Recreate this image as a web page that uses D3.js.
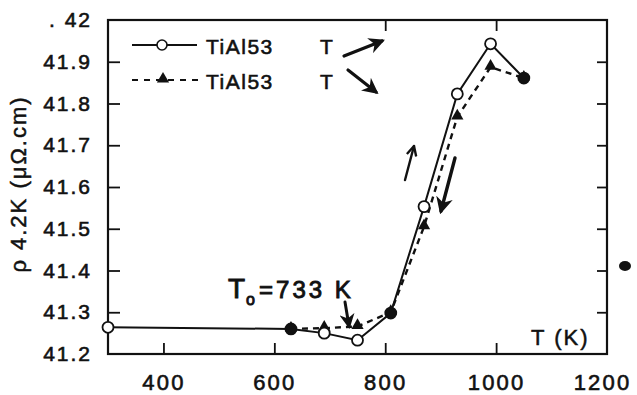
<!DOCTYPE html>
<html>
<head>
<meta charset="utf-8">
<script src="https://cdn.jsdelivr.net/npm/d3@7"></script>
<style>
  body { margin: 0; background: #fff; }
  svg { display: block; }
  text { font-family: "Liberation Sans", Arial, sans-serif; fill: #111; }
</style>
</head>
<body>
<script>
// data
var tempUp = [300, 630, 690, 750, 810, 870, 930, 990, 1050];
var rhoUp = [41.264, 41.26, 41.25, 41.233, 41.298, 41.553, 41.823, 41.943, 41.861];
var tempDown = [630, 690, 750, 810, 870, 930, 990, 1050];
var rhoDown = [41.26, 41.262, 41.266, 41.30, 41.505, 41.768, 41.887, 41.861];
var xTicks = [400, 600, 800, 1000, 1200];
var yTicks = [41.2, 41.3, 41.4, 41.5, 41.6, 41.7, 41.8, 41.9, 42];
var yTickLabels = ["41.2", "41.3", "41.4", "41.5", "41.6", "41.7", "41.8", "41.9", ". 42"];
var seriesNames = ["TiAl53", "TiAl53"];

var W = 637, H = 395;
var svg = d3.select("body").append("svg").attr("width", W).attr("height", H);

var x = d3.scaleLinear().domain([300, 1200]).range([108, 607]);
var y = d3.scaleLinear().domain([41.2, 42]).range([354, 20]);

// frame
svg.append("rect")
    .attr("x", x(300)).attr("y", y(42))
    .attr("width", x(1200) - x(300)).attr("height", y(41.2) - y(42))
    .attr("fill", "none").attr("stroke", "#111").attr("stroke-width", 2.2);

// bottom axis, ticks pointing up
var bottomAx = svg.append("g").attr("transform", "translate(0," + y(41.2) + ")")
    .call(d3.axisBottom(x).tickValues(xTicks).tickSizeInner(-11).tickSizeOuter(0).tickPadding(20)
        .tickFormat(d3.format("d")));
bottomAx.select(".domain").remove();
bottomAx.selectAll(".tick line").filter(function(d) { return d === 1200; }).remove();
bottomAx.selectAll("text").attr("font-size", 22).attr("letter-spacing", 2.2).attr("fill", "#111")
    .attr("stroke", "#111").attr("stroke-width", 0.6);
bottomAx.selectAll(".tick text").filter(function(d) { return d === 1200; }).attr("dx", -5);
bottomAx.selectAll("line").attr("stroke", "#111").attr("stroke-width", 1.8);

// top ticks (only 800 and 1000 show on the scan)
var topAx = svg.append("g").attr("transform", "translate(0," + y(42) + ")")
    .call(d3.axisTop(x).tickValues([800, 1000]).tickSizeInner(-11).tickSizeOuter(0).tickFormat(""));
topAx.select(".domain").remove();
topAx.selectAll("line").attr("stroke", "#111").attr("stroke-width", 1.8);

// left axis, ticks pointing right
var leftAx = svg.append("g").attr("transform", "translate(" + x(300) + ",0)")
    .call(d3.axisLeft(y).tickValues(yTicks).tickSizeInner(-12).tickSizeOuter(0).tickPadding(16)
        .tickFormat(function(d, i) { return yTickLabels[i]; }));
leftAx.select(".domain").remove();
leftAx.selectAll(".tick line").filter(function(d) { return d === 41.2 || d === 42; }).remove();
leftAx.selectAll("text").attr("font-size", 21).attr("letter-spacing", 2).attr("fill", "#111")
    .attr("stroke", "#111").attr("stroke-width", 0.6);
leftAx.selectAll("line").attr("stroke", "#111").attr("stroke-width", 1.8);

// right ticks pointing left
var rightAx = svg.append("g").attr("transform", "translate(" + x(1200) + ",0)")
    .call(d3.axisRight(y).tickValues(yTicks.slice(1, 8)).tickSizeInner(-10).tickSizeOuter(0).tickFormat(""));
rightAx.select(".domain").remove();
rightAx.selectAll("line").attr("stroke", "#111").attr("stroke-width", 1.8);

// axis titles
svg.append("text")
    .attr("transform", "translate(26," + 184 + ") rotate(-90)")
    .attr("text-anchor", "middle").attr("font-size", 22).attr("letter-spacing", 2)
    .attr("stroke", "#111").attr("stroke-width", 0.5)
    .text("ρ 4.2K (μΩ.cm)");
svg.append("text")
    .attr("x", 531).attr("y", 345).attr("font-size", 22).attr("letter-spacing", 2)
    .attr("stroke", "#111").attr("stroke-width", 0.5)
    .text("T (K)");

var line = d3.line().x(function(d) { return x(d[0]); }).y(function(d) { return y(d[1]); });
var upPts = tempUp.map(function(t, i) { return [t, rhoUp[i]]; });
var downPts = tempDown.map(function(t, i) { return [t, rhoDown[i]]; });

// heating curve (solid, open circles)
svg.append("path").datum(upPts).attr("d", line)
    .attr("fill", "none").attr("stroke", "#111").attr("stroke-width", 2);
// cooling curve (dashed, triangles)
svg.append("path").datum(downPts).attr("d", line)
    .attr("fill", "none").attr("stroke", "#111").attr("stroke-width", 2.4)
    .attr("stroke-dasharray", "6,5");

var tri = d3.symbol().type(d3.symbolTriangle).size(65);
svg.selectAll(".tri").data(downPts).enter().append("path")
    .attr("class", "tri")
    .attr("d", tri)
    .attr("transform", function(d) { return "translate(" + x(d[0]) + "," + (y(d[1]) - 1) + ")"; })
    .attr("fill", "#111");

svg.selectAll(".circ").data(upPts).enter().append("circle")
    .attr("class", "circ")
    .attr("cx", function(d) { return x(d[0]); })
    .attr("cy", function(d) { return y(d[1]); })
    .attr("r", 5.5)
    .attr("fill", function(d) { return (d[0] === 630 || d[0] === 810 || d[0] === 1050) ? "#111" : "#fff"; })
    .attr("stroke", "#111").attr("stroke-width", 1.8);

// legend
var lg = svg.append("g");
lg.append("line").attr("x1", 132).attr("x2", 197).attr("y1", 45).attr("y2", 45)
    .attr("stroke", "#111").attr("stroke-width", 2);
lg.append("circle").attr("cx", 162).attr("cy", 45).attr("r", 5).attr("fill", "#fff")
    .attr("stroke", "#111").attr("stroke-width", 1.6);
lg.append("line").attr("x1", 132).attr("x2", 199).attr("y1", 80).attr("y2", 80)
    .attr("stroke", "#111").attr("stroke-width", 2.2).attr("stroke-dasharray", "6,6");
lg.append("path").attr("d", tri).attr("transform", "translate(163,79)").attr("fill", "#111");
lg.selectAll(".lt").data(seriesNames).enter().append("text")
    .attr("x", 206).attr("y", function(d, i) { return 54 + i * 35; })
    .attr("font-size", 21).attr("letter-spacing", 1.5)
    .attr("stroke", "#111").attr("stroke-width", 0.6)
    .text(function(d) { return d; });
lg.selectAll(".tt").data(["T", "T"]).enter().append("text")
    .attr("x", 320).attr("y", function(d, i) { return 54 + i * 35; })
    .attr("font-size", 21).attr("stroke", "#111").attr("stroke-width", 0.6)
    .text(function(d) { return d; });

// arrow heads
var defs = svg.append("defs");
defs.append("marker").attr("id", "head").attr("viewBox", "0 0 10 10")
    .attr("refX", 8).attr("refY", 5).attr("markerWidth", 5).attr("markerHeight", 5)
    .attr("orient", "auto")
    .append("path").attr("d", "M0,0 L10,5 L0,10 L3,5 Z").attr("fill", "#111");
defs.append("marker").attr("id", "open").attr("viewBox", "0 0 10 10")
    .attr("refX", 9).attr("refY", 5).attr("markerWidth", 5).attr("markerHeight", 5)
    .attr("orient", "auto")
    .append("path").attr("d", "M1,1 L9,5 L1,9").attr("fill", "none").attr("stroke", "#111").attr("stroke-width", 2);

function arrow(x1, y1, x2, y2, w, m) {
    svg.append("line").attr("x1", x1).attr("y1", y1).attr("x2", x2).attr("y2", y2)
        .attr("stroke", "#111").attr("stroke-width", w).attr("stroke-linecap", "round")
        .attr("marker-end", "url(#" + m + ")");
}
arrow(344, 56, 382, 41, 3.2, "head");
arrow(348, 70, 376, 92, 3.2, "head");
arrow(405, 180, 414, 146, 2.4, "open");
arrow(455, 158, 441, 211, 3.4, "head");
arrow(345, 302, 349, 326, 3, "head");

// handwritten annotation
var note = svg.append("text").attr("x", 228).attr("y", 298)
    .attr("font-family", "'DejaVu Sans', sans-serif")
    .attr("stroke", "#111").attr("stroke-width", 0.9);
note.append("tspan").attr("font-size", 28).text("T");
note.append("tspan").attr("font-size", 16).attr("dy", 7).attr("dx", 1).text("o");
note.append("tspan").attr("font-size", 24).attr("dy", -7).attr("dx", 4).attr("letter-spacing", 3).text("=733 K");

// scan blot outside the frame
svg.append("ellipse").attr("cx", 625).attr("cy", 266).attr("rx", 6).attr("ry", 5).attr("fill", "#111");
</script>
</body>
</html>
